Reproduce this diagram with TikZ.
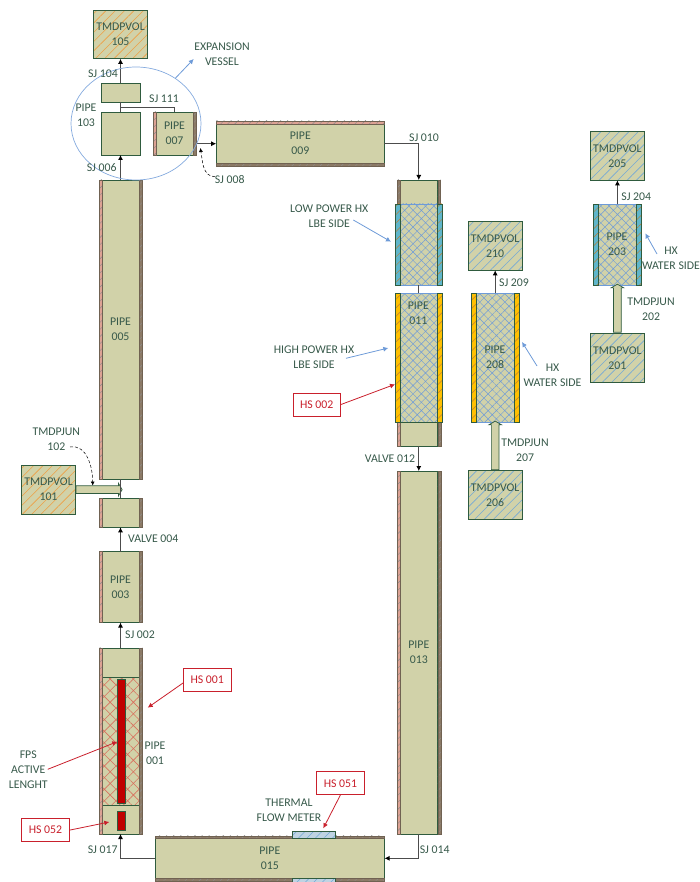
\documentclass[tikz,border=0pt]{standalone}
\usepackage{fontspec}
\setmainfont{Carlito}
\usepackage{xcolor}
\usetikzlibrary{calc,arrows.meta,patterns.meta,shapes.geometric,shapes.arrows}

\definecolor{pipefill}{HTML}{D1D2A9}
\definecolor{linegreen}{HTML}{2F5B3E}
\definecolor{labelgreen}{HTML}{37594A}
\definecolor{hatchorange}{HTML}{EE9F45}
\definecolor{hatchblue}{HTML}{74A9D6}
\definecolor{hatchred}{HTML}{D8705E}
\definecolor{hxblue}{HTML}{6E9BD8}
\definecolor{wallpink}{HTML}{DDA294}
\definecolor{wallbrown}{HTML}{8C7A66}
\definecolor{wallteal}{HTML}{5FB6CB}
\definecolor{wallyellow}{HTML}{FFC000}
\definecolor{rodred}{HTML}{C00000}
\definecolor{tagred}{HTML}{C9202C}
\definecolor{meterblue}{HTML}{BFD3E2}

\tikzset{
  sz/.style 2 args={minimum width=#1pt,minimum height=#2pt},
  body/.style={draw=linegreen,fill=pipefill,line width=.8pt},
  vol/.style={draw=linegreen,line width=.9pt,minimum width=53.5pt,minimum height=48.7pt,
    preaction={fill=pipefill},pattern={Lines[angle=45,distance=6.6pt,line width=.6pt]}},
  volorange/.style={vol,pattern color=hatchorange},
  volblue/.style={vol,pattern color=hatchblue},
  corered/.style={draw=linegreen,line width=.6pt,preaction={fill=pipefill},
    pattern={Hatch[angle=45,distance=8.2pt,line width=.6pt]},pattern color=hatchred},
  coreblue/.style={draw=hxblue,line width=.7pt,preaction={fill=pipefill},
    pattern={Hatch[angle=45,distance=5.9pt,line width=.45pt]},pattern color=hxblue},
  wall/.style={draw=wallbrown!80!black,line width=.4pt,preaction={fill=#1},
    pattern={Lines[angle=45,distance=5pt,line width=.4pt]},pattern color=black!45},
  wallhx/.style={draw=linegreen,line width=.7pt,preaction={fill=#1},
    pattern={Lines[angle=45,distance=6pt,line width=.5pt]},pattern color=hatchorange!80!black},
  rod/.style={draw=linegreen,fill=rodred,line width=.5pt},
  tag/.style={draw=tagred,fill=white,text=tagred,line width=.8pt,sz={47.5}{23}},
  link/.style={-{Latex[length=5pt,width=5pt,black]},draw=black!70,line width=.8pt},
  plain/.style={draw=black!70,line width=.8pt},
  redarrow/.style={-{Latex[length=5pt,width=5pt]},draw=tagred,line width=.8pt},
  bluearrow/.style={-{Latex[length=5pt,width=5pt]},draw=hxblue,line width=.8pt},
  note/.style={-{Latex[length=4pt,width=4pt,black]},draw=black,densely dashed,line width=.5pt},
  fatarrow/.style={single arrow,draw=linegreen,fill=pipefill,line width=.7pt,inner ysep=3.5pt,inner xsep=0pt,
    minimum width=12pt,single arrow head extend=2.5pt,single arrow tip angle=120},
}

\begin{document}
\begin{tikzpicture}[
    x=1pt,y=-1pt,
    every node/.style={font=\fontsize{11.8}{15}\selectfont,text=labelgreen,align=center,inner sep=0pt,outer sep=0pt}
  ]
  \useasboundingbox (0,0) rectangle (700,882);

  % Left leg --------------------------------------------------
  \node[volorange] (v105) at (120.5,34.5) {TMDPVOL\\105};
  \node[body,sz={39}{19}] (p103top) at (120.5,92.5) {};
  \node[body,sz={39}{43}] (p103low) at (120.5,133.5) {};
  \node[body,sz={37}{43}] (p007) at (174.5,133.5) {PIPE\\007};
  \node[body,sz={37}{299}] (p005) at (120.5,329.5) {PIPE\\005};
  \node[body,sz={37}{29}] (p004) at (120.5,512.8) {};
  \node[body,sz={37}{71}] (p003) at (120.5,587) {PIPE\\003};
  \node[volorange] (v101) at (48.5,489.6) {TMDPVOL\\101};

  % Pipe 001 with the active length ---------------------------
  \node[body,sz={37}{29.3}] (p001top) at (120.5,662.6) {};
  \node[corered,sz={37}{127.7}] (p001core) at (120.5,741.2) {};
  \node[body,sz={37}{29}] (p001bot) at (120.5,819.5) {};
  \node[rod,sz={8}{124.4}] (rod1) at (120.8,741.5) {};
  \node[rod,sz={8}{19}] (rod2) at (120.8,820.8) {};

  % Upper and lower horizontal runs ---------------------------
  \node[body,sz={168.3}{39.5}] (p009) at (300.3,143.7) {PIPE\\009};
  \node[body,sz={229.5}{40}] (p015) at (269.8,858.3) {PIPE\\015};

  % Right leg -------------------------------------------------
  \node[body,sz={38}{24}] (p011top) at (418.8,192) {};
  \node[coreblue,sz={37.5}{81}] (lowhx) at (418.8,244.5) {};
  \node[coreblue,sz={37.5}{129}] (highhx) at (418.8,357.8) {};
  \node[body,sz={38}{24}] (p011low) at (418.8,434.3) {};
  \node[body,sz={38}{363}] (p013) at (418.8,652.5) {PIPE\\013};

  % Secondary sides -------------------------------------------
  \node[volblue] (v210) at (495.2,246) {TMDPVOL\\210};
  \node[coreblue,sz={38}{129}] (p208) at (495.2,357.8) {};
  \node[volblue] (v206) at (495.2,495.2) {TMDPVOL\\206};
  \node[volblue] (v205) at (617.4,156) {TMDPVOL\\205};
  \node[coreblue,sz={38}{81.3}] (p203) at (617.5,244.7) {};
  \node[volblue] (v201) at (617.4,357.8) {TMDPVOL\\201};

  % Walls -----------------------------------------------------
  \foreach \pp in {p007,p005,p004,p003,p013,p011low} {
    \path[wall=wallpink] (\pp.north west) rectangle ($(\pp.south west)+(-2.7,0)$);
    \path[wall=wallbrown] (\pp.north east) rectangle ($(\pp.south east)+(3.3,0)$);
  }
  \path[wall=wallbrown] (p011top.north west) rectangle ($(p011top.south west)+(-2.7,0)$);
  \path[wall=wallbrown] (p011top.north east) rectangle ($(p011top.south east)+(2.7,0)$);
  \path[wall=wallpink] (p001top.north west) rectangle ($(p001bot.south west)+(-2.7,0)$);
  \path[wall=wallbrown] (p001top.north east) rectangle ($(p001bot.south east)+(3.3,0)$);
  \path[wall=wallpink] (p009.north west) rectangle ($(p009.north east)+(0,-3)$);
  \path[wall=wallbrown] (p009.south west) rectangle ($(p009.south east)+(0,3)$);
  \path[wall=wallbrown] (p015.north west) rectangle ($(p015.north east)+(0,-2.5)$);
  \path[wall=wallbrown] (p015.south west) rectangle ($(p015.south east)+(0,2.5)$);

  \foreach \pp/\cc in {lowhx/wallteal,p203/wallteal,highhx/wallyellow,p208/wallyellow} {
    \path[wallhx=\cc] (\pp.north west) rectangle ($(\pp.south west)+(-5,0)$);
    \path[wallhx=\cc] (\pp.north east) rectangle ($(\pp.south east)+(5,0)$);
  }

  % Thermal flow meter on pipe 015
  \node[draw=linegreen,line width=.6pt,sz={43}{7},preaction={fill=meterblue},
    pattern={Lines[angle=45,distance=6pt,line width=.5pt]},pattern color=hatchblue] (fm1) at (314.2,835.2) {};
  \node[draw=linegreen,line width=.6pt,sz={43}{3.7},preaction={fill=meterblue},
    pattern={Lines[angle=45,distance=6pt,line width=.5pt]},pattern color=hatchblue] (fm2) at (314.2,880.2) {};

  % Fat time dependent junctions ------------------------------
  \node[fatarrow,minimum height=46pt] (j102) at (98,489.6) {};
  \node[fatarrow,minimum height=48.7pt,rotate=90] (j207) at (495.2,446.6) {};
  \node[fatarrow,minimum height=48pt,rotate=90] (j202) at (617.4,309.3) {};

  % Connectors ------------------------------------------------
  \draw[link] (p103top.north) -- (v105.south);
  \draw[plain] (p103top.south) -- (p103low.north);
  \coordinate (j111) at (120.5,107);
  \draw[plain] (j111) -| (p007.north);
  \draw[link] (p005.north) -- (p103low.south);
  \coordinate (j008) at (196.5,143.7);
  \draw[link] (j008) -- (p009.west);
  \draw[link] (p009.east) -| (p011top.north);
  \draw[plain] (lowhx.south) -- (highhx.north);
  \draw[link] (p011low.south) -- (p013.north);
  \draw[link] (p013.south) |- (p015.east);
  \draw[link] (p015.west) -| (p001bot.south);
  \draw[link] (p001top.north) -- (p003.south);
  \draw[link] (p003.north) -- (p004.south);
  \draw[plain] (p004.north) -- (p005.south);
  \draw[link] (p208.north) -- (v210.south);
  \draw[link] (p203.north) -- (v205.south);

  % Expansion vessel ------------------------------------------
  \node[ellipse,draw=hxblue!85,line width=.7pt,minimum width=130pt,minimum height=113pt] (vessel) at (136,123.5) {};
  \coordinate (tipvessel) at (193.7,59);
  \draw[bluearrow] (vessel.49) -- (tipvessel);

  % Labels ----------------------------------------------------
  \node (lvessel) at (222,54.5) {EXPANSION\\VESSEL};
  \node (l104) at (103,74) {SJ 104};
  \node (l111) at (164,99) {SJ 111};
  \node (l103) at (86,115.7) {PIPE\\103};
  \node (l006) at (101.7,168) {SJ 006};
  \node (l008) at (229.7,180) {SJ 008};
  \node (l010) at (424,137.3) {SJ 010};
  \node (l102) at (56.3,439.5) {TMDPJUN\\102};
  \node (l004) at (153.3,539) {VALVE 004};
  \node (l002) at (140,635) {SJ 002};
  \node (l001) at (155,753.7) {PIPE\\001};
  \node (lfps) at (28.3,770) {FPS\\ACTIVE\\LENGHT};
  \node (l017) at (102.7,850) {SJ 017};
  \node (l014) at (434.7,849.3) {SJ 014};
  \node (lflow) at (289,810.7) {THERMAL\\FLOW METER};
  \node (l012) at (390,458.3) {VALVE 012};
  \node (l011) at (418.3,313.3) {PIPE\\011};
  \node (lhigh) at (314,357) {HIGH POWER HX\\LBE SIDE};
  \node (llow) at (329.3,216.7) {LOW POWER HX\\LBE SIDE};
  \node (l208) at (495,357) {PIPE\\208};
  \node (l209) at (514,282.3) {SJ 209};
  \node (l207) at (525,450.5) {TMDPJUN\\207};
  \node (lwater1) at (552.5,375.5) {HX\\WATER SIDE};
  \node (l203) at (617,244.7) {PIPE\\203};
  \node (l204) at (636.3,196.3) {SJ 204};
  \node (l202) at (651,309.5) {TMDPJUN\\202};
  \node (lwater2) at (671,258.5) {HX\\WATER SIDE};

  % Heat structure tags ---------------------------------------
  \node[tag] (hs001) at (207.2,680) {HS 001};
  \node[tag] (hs052) at (45.5,830.2) {HS 052};
  \node[tag] (hs051) at (340.5,783.3) {HS 051};
  \node[tag] (hs002) at (316.7,404.7) {HS 002};

  % Pointers --------------------------------------------------
  \coordinate (tip001) at (147.7,707.7);
  \coordinate (tipfps) at (117.3,741.7);
  \coordinate (tip052) at (109.3,822);
  \coordinate (tip051) at (323.3,828.3);
  \coordinate (tip002) at (395,384.3);
  \coordinate (tiphigh) at (388.3,348);
  \coordinate (tiplow) at (391,241.7);
  \coordinate (tipw1) at (522,342);
  \coordinate (tipw2) at (645.3,233.3);
  \coordinate (tip008) at (200.3,148);
  \coordinate (start008) at (215,176.7);
  \coordinate (start102) at (70,447);
  \coordinate (tip102) at (92.7,485.5);
  \coordinate (starthigh) at (346,358.3);
  \coordinate (startlow) at (353.3,220);
  \coordinate (startw1) at (537,366);
  \coordinate (startw2) at (657,254);
  \draw[redarrow] (hs001.west |- 0,682.7) -- (tip001);
  \draw[redarrow] (lfps.east |- 0,769.3) -- (tipfps);
  \draw[redarrow] (hs052.east) -- (tip052);
  \draw[redarrow] (hs051.south) -- (tip051);
  \draw[redarrow] (hs002.east) -- (tip002);
  \draw[bluearrow] (starthigh) -- (tiphigh);
  \draw[bluearrow] (startlow) -- (tiplow);
  \draw[bluearrow] (startw1) -- (tipw1);
  \draw[bluearrow] (startw2) -- (tipw2);
  \draw[note] (start008) to[out=180,in=280] (tip008);
  \draw[note] (start102) to[out=10,in=90] (tip102);
\end{tikzpicture}
\end{document}
